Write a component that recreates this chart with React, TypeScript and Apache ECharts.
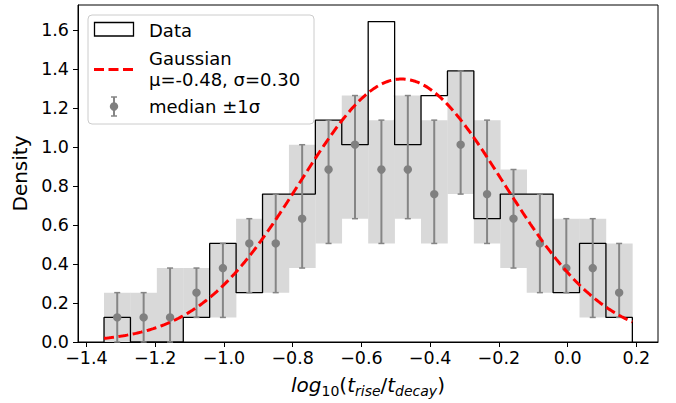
import React, { useEffect, useRef } from "react";
import * as echarts from "echarts";

// Histogram bin edges (log10(t_rise/t_decay))
const binEdges = [
  -1.3488, -1.2719, -1.1951, -1.1182, -1.0414, -0.9645, -0.8876, -0.8108,
  -0.7339, -0.6571, -0.5802, -0.5033, -0.4265, -0.3496, -0.2728, -0.1959,
  -0.119, -0.0422, 0.0347, 0.1115, 0.1884,
];
// Histogram density per bin
const histDensity = [
  0.126, 0, 0, 0.126, 0.505, 0.253, 0.758, 0.758, 1.137, 1.011,
  1.642, 1.011, 1.263, 1.389, 0.632, 0.758, 0.758, 0.253, 0.505, 0.126,
];
// Median and ±1σ bounds per bin
const medianDensity = [
  0.126, 0.126, 0.126, 0.253, 0.379, 0.505, 0.505, 0.632, 0.884, 1.011,
  0.884, 0.884, 0.758, 1.011, 0.758, 0.632, 0.505, 0.379, 0.379, 0.253,
];
const lowerDensity = [
  0, 0, 0, 0.126, 0.126, 0.253, 0.253, 0.379, 0.505, 0.632,
  0.505, 0.632, 0.505, 0.758, 0.505, 0.379, 0.253, 0.253, 0.126, 0.126,
];
const upperDensity = [
  0.253, 0.253, 0.379, 0.379, 0.505, 0.632, 0.758, 1.011, 1.137, 1.263,
  1.137, 1.263, 1.137, 1.389, 1.137, 0.884, 0.758, 0.632, 0.632, 0.505,
];
// Gaussian fit parameters
const GAUSS_MU = -0.483;
const GAUSS_SIGMA = 0.296;

const xTicks = [-1.4, -1.2, -1.0, -0.8, -0.6, -0.4, -0.2, 0.0, 0.2];
const yTicks = [0, 0.2, 0.4, 0.6, 0.8, 1.0, 1.2, 1.4, 1.6];
const legendLabels = ["Data", "Gaussian", "μ=-0.48, σ=0.30", "median ±1σ"];

const FONT = "DejaVu Sans";

export default function App() {
  const ref = useRef<HTMLDivElement>(null);

  useEffect(() => {
    const chart = echarts.init(ref.current!, null, { renderer: "svg" });

    const shadeData = histDensity.map((_, i) => [
      binEdges[i], binEdges[i + 1], lowerDensity[i], upperDensity[i],
    ]);
    const errData = histDensity.map((_, i) => [
      (binEdges[i] + binEdges[i + 1]) / 2, lowerDensity[i], upperDensity[i], medianDensity[i],
    ]);
    const stepData: number[][] = [[binEdges[0], 0]];
    histDensity.forEach((h, i) => {
      stepData.push([binEdges[i], h]);
      stepData.push([binEdges[i + 1], h]);
    });
    stepData.push([binEdges[binEdges.length - 1], 0]);

    const gaussData: number[][] = [];
    const x0 = binEdges[0];
    const x1 = binEdges[binEdges.length - 1];
    const N = 300;
    for (let k = 0; k <= N; k++) {
      const x = x0 + ((x1 - x0) * k) / N;
      const z = (x - GAUSS_MU) / GAUSS_SIGMA;
      gaussData.push([x, Math.exp(-0.5 * z * z) / (GAUSS_SIGMA * Math.sqrt(2 * Math.PI))]);
    }

    const fmt = (v: number) => (v < -1e-9 ? "\u2212" : "") + Math.abs(v).toFixed(1);

    const lx = 88, ly = 15;
    const legend: any[] = [
      {
        type: "rect", z: 100,
        shape: { x: lx, y: ly, width: 226, height: 109, r: 4 },
        style: { fill: "rgba(255,255,255,0.8)", stroke: "#cccccc", lineWidth: 1 },
      },
      {
        type: "rect", z: 101,
        shape: { x: 94.5, y: 22.5, width: 39, height: 13.5 },
        style: { fill: "none", stroke: "#000", lineWidth: 1.3 },
      },
      {
        type: "text", z: 101, x: 149, y: 30,
        style: { text: legendLabels[0], fontSize: 18, fontFamily: FONT, fill: "#000", verticalAlign: "middle" },
      },
      {
        type: "line", z: 101,
        shape: { x1: 94, y1: 69.5, x2: 133.5, y2: 69.5 },
        style: { stroke: "#ff0000", lineWidth: 3, lineDash: [10, 4.5] },
      },
      {
        type: "text", z: 101, x: 149, y: 58,
        style: { text: legendLabels[1], fontSize: 18, fontFamily: FONT, fill: "#000", verticalAlign: "middle" },
      },
      {
        type: "text", z: 101, x: 149, y: 79.5,
        style: { text: legendLabels[2], fontSize: 18, fontFamily: FONT, fill: "#000", verticalAlign: "middle" },
      },
      {
        type: "line", z: 101,
        shape: { x1: 114, y1: 97, x2: 114, y2: 116 },
        style: { stroke: "#858585", lineWidth: 2 },
      },
      {
        type: "line", z: 101,
        shape: { x1: 111, y1: 97, x2: 117, y2: 97 },
        style: { stroke: "#858585", lineWidth: 1.5 },
      },
      {
        type: "line", z: 101,
        shape: { x1: 111, y1: 116, x2: 117, y2: 116 },
        style: { stroke: "#858585", lineWidth: 1.5 },
      },
      {
        type: "circle", z: 102,
        shape: { cx: 114, cy: 106.5, r: 4.2 },
        style: { fill: "#808080" },
      },
      {
        type: "text", z: 101, x: 149, y: 106,
        style: { text: legendLabels[3], fontSize: 18, fontFamily: FONT, fill: "#000", verticalAlign: "middle" },
      },
    ];

    const option: any = {
      animation: false,
      backgroundColor: "#ffffff",
      grid: {
        left: 78, right: 18, top: 5, bottom: 58,
        show: true, borderColor: "#000", borderWidth: 1, backgroundColor: "transparent",
      },
      xAxis: {
        type: "value",
        min: -1.4245,
        max: 0.263,
        axisLine: { show: true, onZero: false, lineStyle: { color: "#000", width: 1 } },
        axisTick: { show: true, customValues: xTicks, length: 5, lineStyle: { color: "#000" } },
        axisLabel: {
          customValues: xTicks, formatter: fmt, fontSize: 17.5, fontFamily: FONT, color: "#000", margin: 7,
        },
        splitLine: { show: false },
        name: "{it|log}{sub|10}{n|(}{it|t}{subi|rise}{n|/}{it|t}{subi|decay}{n|)}",
        nameLocation: "middle",
        nameGap: 30,
        nameTextStyle: {
          verticalAlign: "top",
          rich: {
            it: { fontSize: 20, fontFamily: FONT, fontStyle: "italic", color: "#000", lineHeight: 26 },
            n: { fontSize: 20, fontFamily: FONT, color: "#000", lineHeight: 26 },
            sub: { fontSize: 14, fontFamily: FONT, color: "#000", lineHeight: 14, verticalAlign: "bottom" },
            subi: { fontSize: 14, fontFamily: FONT, fontStyle: "italic", color: "#000", lineHeight: 14, verticalAlign: "bottom" },
          },
        },
      },
      yAxis: {
        type: "value",
        min: 0,
        max: 1.727,
        axisLine: { show: true, onZero: false, lineStyle: { color: "#000", width: 1 } },
        axisTick: { show: true, customValues: yTicks, length: 5, lineStyle: { color: "#000" } },
        axisLabel: {
          customValues: yTicks, formatter: (v: number) => v.toFixed(1),
          fontSize: 17.5, fontFamily: FONT, color: "#000", margin: 9,
        },
        splitLine: { show: false },
        name: "Density",
        nameLocation: "middle",
        nameGap: 45,
        nameTextStyle: { fontSize: 20, fontFamily: FONT, color: "#000" },
      },
      graphic: legend,
      series: [
        {
          type: "custom",
          z: 1,
          data: shadeData,
          encode: { x: [0, 1], y: [2, 3] },
          renderItem: (params: any, api: any) => {
            const p1 = api.coord([api.value(0), api.value(3)]);
            const p2 = api.coord([api.value(1), api.value(2)]);
            return {
              type: "rect",
              shape: { x: p1[0], y: p1[1], width: p2[0] - p1[0] + 0.3, height: p2[1] - p1[1] },
              style: { fill: "#d9d9d9" },
            };
          },
        },
        {
          type: "line",
          z: 2,
          data: stepData,
          showSymbol: false,
          symbol: "none",
          lineStyle: { color: "#000", width: 1.3 },
        },
        {
          type: "custom",
          z: 3,
          data: errData,
          encode: { x: 0, y: [1, 2, 3] },
          renderItem: (params: any, api: any) => {
            const c = api.value(0);
            const pLo = api.coord([c, api.value(1)]);
            const pHi = api.coord([c, api.value(2)]);
            const pM = api.coord([c, api.value(3)]);
            const st = { stroke: "#858585", lineWidth: 2 };
            return {
              type: "group",
              children: [
                { type: "line", shape: { x1: pLo[0], y1: pLo[1], x2: pHi[0], y2: pHi[1] }, style: st },
                { type: "line", shape: { x1: pHi[0] - 3, y1: pHi[1], x2: pHi[0] + 3, y2: pHi[1] }, style: { stroke: "#858585", lineWidth: 1.5 } },
                { type: "line", shape: { x1: pLo[0] - 3, y1: pLo[1], x2: pLo[0] + 3, y2: pLo[1] }, style: { stroke: "#858585", lineWidth: 1.5 } },
                { type: "circle", shape: { cx: pM[0], cy: pM[1], r: 4.2 }, style: { fill: "#808080" } },
              ],
            };
          },
        },
        {
          type: "line",
          z: 4,
          data: gaussData,
          showSymbol: false,
          symbol: "none",
          smooth: false,
          lineStyle: { color: "#ff0000", width: 3, type: [10, 4.5] },
        },
      ],
    };

    chart.setOption(option);
    return () => chart.dispose();
  }, []);

  return (
    <div
      ref={ref}
      style={{ position: "fixed", left: 0, top: 0, width: 676, height: 403 }}
    />
  );
}
